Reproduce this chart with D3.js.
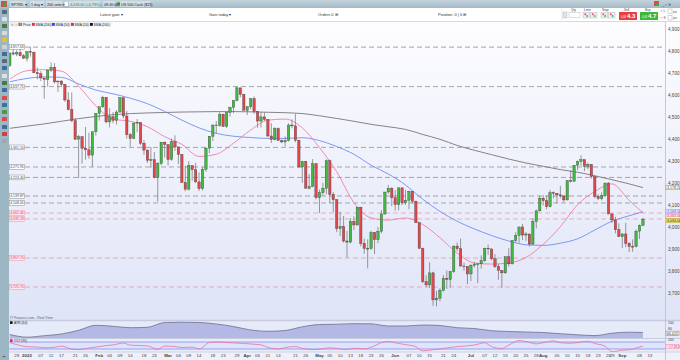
<!DOCTYPE html>
<html>
<head>
<meta charset="utf-8">
<script src="https://cdn.jsdelivr.net/npm/d3@7"></script>
<style>
  body { margin: 0; background: #fff; }
  svg { display: block; font-family: "Liberation Sans", Arial, sans-serif; }
</style>
</head>
<body>
<div id="chart"></div>
<script>
// US 500 Cash, daily candles: date, open, high, low, close
const candles = [
  ["2021-12-27",4733,4792,4728,4791],["2021-12-28",4791,4808,4780,4786],["2021-12-29",4786,4804,4776,4793],["2021-12-30",4793,4808,4775,4778],["2021-12-31",4778,4787,4764,4767],
  ["2022-01-03",4767,4797,4752,4797],["2022-01-04",4797,4819,4774,4794],["2022-01-05",4794,4798,4699,4701],["2022-01-06",4701,4725,4671,4696],["2022-01-07",4696,4708,4663,4677],
  ["2022-01-10",4677,4677,4582,4670],["2022-01-11",4670,4714,4638,4713],["2022-01-12",4713,4749,4703,4726],["2022-01-13",4726,4745,4652,4659],["2022-01-14",4659,4666,4614,4663],
  ["2022-01-17",4663,4668,4640,4648],["2022-01-18",4648,4650,4568,4577],["2022-01-19",4577,4612,4530,4533],["2022-01-20",4533,4611,4476,4483],["2022-01-21",4483,4495,4396,4398],
  ["2022-01-24",4398,4418,4222,4410],["2022-01-25",4410,4411,4287,4357],["2022-01-26",4357,4454,4305,4350],["2022-01-27",4350,4428,4309,4326],["2022-01-28",4326,4432,4273,4432],
  ["2022-01-31",4432,4516,4415,4516],["2022-02-01",4516,4546,4483,4546],["2022-02-02",4546,4596,4540,4589],["2022-02-03",4589,4590,4470,4477],["2022-02-04",4477,4540,4452,4501],
  ["2022-02-07",4501,4522,4471,4484],["2022-02-08",4484,4531,4465,4522],["2022-02-09",4522,4590,4520,4587],["2022-02-10",4587,4588,4492,4504],["2022-02-11",4504,4527,4401,4419],
  ["2022-02-14",4419,4427,4365,4402],["2022-02-15",4402,4472,4400,4472],["2022-02-16",4472,4490,4430,4475],["2022-02-17",4475,4476,4372,4380],["2022-02-18",4380,4394,4327,4349],
  ["2022-02-21",4349,4352,4290,4302],["2022-02-22",4302,4363,4267,4305],["2022-02-23",4305,4340,4221,4225],["2022-02-24",4225,4294,4114,4288],["2022-02-25",4288,4385,4280,4385],
  ["2022-02-28",4385,4388,4315,4374],["2022-03-01",4374,4375,4279,4306],["2022-03-02",4306,4401,4300,4387],["2022-03-03",4387,4416,4345,4363],["2022-03-04",4363,4365,4285,4329],
  ["2022-03-07",4329,4330,4199,4201],["2022-03-08",4201,4277,4161,4171],["2022-03-09",4171,4299,4165,4278],["2022-03-10",4278,4280,4209,4260],["2022-03-11",4260,4291,4200,4204],
  ["2022-03-14",4204,4247,4162,4173],["2022-03-15",4173,4271,4165,4262],["2022-03-16",4262,4357,4250,4358],["2022-03-17",4358,4412,4335,4412],["2022-03-18",4412,4465,4390,4463],
  ["2022-03-21",4463,4481,4424,4461],["2022-03-22",4461,4522,4455,4512],["2022-03-23",4512,4515,4455,4456],["2022-03-24",4456,4520,4450,4520],["2022-03-25",4520,4546,4501,4543],
  ["2022-03-28",4543,4575,4517,4575],["2022-03-29",4575,4637,4570,4632],["2022-03-30",4632,4633,4589,4602],["2022-03-31",4602,4605,4530,4530],["2022-04-01",4530,4548,4508,4546],
  ["2022-04-04",4546,4583,4535,4583],["2022-04-05",4583,4593,4514,4525],["2022-04-06",4525,4526,4450,4481],["2022-04-07",4481,4521,4451,4500],["2022-04-08",4500,4520,4482,4488],
  ["2022-04-11",4488,4490,4408,4413],["2022-04-12",4413,4471,4381,4397],["2022-04-13",4397,4453,4392,4447],["2022-04-14",4447,4452,4392,4392],["2022-04-15",4392,4398,4380,4386],
  ["2022-04-18",4386,4411,4365,4392],["2022-04-19",4392,4471,4388,4463],["2022-04-20",4463,4489,4448,4459],["2022-04-21",4459,4513,4385,4394],["2022-04-22",4394,4395,4268,4272],
  ["2022-04-25",4272,4300,4200,4297],["2022-04-26",4297,4300,4176,4175],["2022-04-27",4175,4240,4170,4183],["2022-04-28",4183,4308,4180,4287],["2022-04-29",4287,4290,4124,4132],
  ["2022-05-02",4132,4169,4062,4155],["2022-05-03",4155,4200,4142,4175],["2022-05-04",4175,4307,4148,4300],["2022-05-05",4300,4305,4107,4147],["2022-05-06",4147,4158,4067,4123],
  ["2022-05-09",4123,4125,3975,3991],["2022-05-10",3991,4068,3958,4001],["2022-05-11",4001,4049,3928,3935],["2022-05-12",3935,3981,3859,3930],["2022-05-13",3930,4039,3925,4024],
  ["2022-05-16",4024,4047,3984,4008],["2022-05-17",4008,4089,4005,4089],["2022-05-18",4089,4090,3911,3924],["2022-05-19",3924,3946,3877,3901],["2022-05-20",3901,3943,3811,3901],
  ["2022-05-23",3901,3982,3895,3974],["2022-05-24",3974,3976,3876,3941],["2022-05-25",3941,3999,3925,3979],["2022-05-26",3979,4076,3970,4058],["2022-05-27",4058,4158,4055,4158],
  ["2022-05-30",4158,4190,4150,4175],["2022-05-31",4175,4180,4094,4132],["2022-06-01",4132,4167,4073,4101],["2022-06-02",4101,4177,4074,4177],["2022-06-03",4177,4178,4098,4109],
  ["2022-06-06",4109,4168,4100,4121],["2022-06-07",4121,4164,4080,4161],["2022-06-08",4161,4162,4107,4116],["2022-06-09",4116,4119,4017,4018],["2022-06-10",4018,4020,3901,3901],
  ["2022-06-13",3901,3905,3743,3750],["2022-06-14",3750,3778,3725,3735],["2022-06-15",3735,3838,3723,3790],["2022-06-16",3790,3795,3640,3667],["2022-06-17",3667,3707,3637,3675],
  ["2022-06-20",3675,3720,3660,3710],["2022-06-21",3710,3780,3705,3765],["2022-06-22",3765,3801,3717,3760],["2022-06-23",3760,3796,3724,3796],["2022-06-24",3796,3913,3790,3912],
  ["2022-06-27",3912,3928,3889,3900],["2022-06-28",3900,3946,3820,3821],["2022-06-29",3821,3836,3800,3819],["2022-06-30",3819,3820,3739,3785],["2022-07-01",3785,3829,3753,3825],
  ["2022-07-04",3825,3840,3815,3830],["2022-07-05",3830,3832,3743,3831],["2022-07-06",3831,3870,3809,3845],["2022-07-07",3845,3905,3840,3902],["2022-07-08",3902,3919,3872,3899],
  ["2022-07-11",3899,3900,3847,3854],["2022-07-12",3854,3875,3812,3819],["2022-07-13",3819,3830,3759,3801],["2022-07-14",3801,3802,3722,3790],["2022-07-15",3790,3864,3785,3863],
  ["2022-07-18",3863,3902,3818,3831],["2022-07-19",3831,3939,3828,3937],["2022-07-20",3937,3975,3929,3960],["2022-07-21",3960,3999,3927,3999],["2022-07-22",3999,4013,3939,3962],
  ["2022-07-25",3962,3976,3936,3967],["2022-07-26",3967,3968,3910,3921],["2022-07-27",3921,4039,3918,4024],["2022-07-28",4024,4078,3992,4072],["2022-07-29",4072,4141,4070,4130],
  ["2022-08-01",4130,4144,4097,4119],["2022-08-02",4119,4141,4079,4091],["2022-08-03",4091,4167,4088,4155],["2022-08-04",4155,4161,4129,4152],["2022-08-05",4152,4153,4107,4145],
  ["2022-08-08",4145,4186,4129,4140],["2022-08-09",4140,4141,4112,4122],["2022-08-10",4122,4211,4120,4210],["2022-08-11",4210,4257,4201,4207],["2022-08-12",4207,4280,4205,4280],
  ["2022-08-15",4280,4301,4257,4297],["2022-08-16",4297,4325,4277,4305],["2022-08-17",4305,4306,4253,4275],["2022-08-18",4275,4292,4261,4284],["2022-08-19",4284,4285,4218,4228],
  ["2022-08-22",4228,4229,4129,4138],["2022-08-23",4138,4148,4122,4128],["2022-08-24",4128,4156,4120,4141],["2022-08-25",4141,4200,4138,4199],["2022-08-26",4199,4203,4057,4058],
  ["2022-08-29",4058,4063,4017,4031],["2022-08-30",4031,4045,3970,3986],["2022-08-31",3986,4016,3954,3955],["2022-09-01",3955,3970,3904,3967],["2022-09-02",3967,4018,3907,3924],
  ["2022-09-05",3924,3930,3885,3910],["2022-09-06",3910,3942,3886,3909],["2022-09-07",3909,3987,3906,3980],["2022-09-08",3980,4010,3944,4006],["2022-09-09",4006,4040,4003,4034]
];

// moving averages and ATR read weekly (each Monday, then the last day)
const sma20 = [4672,4710,4715,4708,4640,4550,4490,4480,4455,4410,4375,4320,4330,4380,4440,4485,4490,4450,4360,4250,
  4110,4040,4030,4040,4010,3950,3880,3835,3830,3835,3860,3920,4000,4100,4160,4195,4120,4063];
const sma50 = [4660,4675,4682,4680,4650,4622,4605,4585,4560,4525,4485,4450,4425,4412,4406,4402,4402,4405,4392,4365,
  4330,4280,4240,4190,4125,4070,4025,3990,3960,3935,3918,3915,3925,3945,3985,4025,4050,4068];
const sma200 = [4448,4458,4468,4480,4492,4502,4510,4515,4518,4520,4522,4523,4524,4524,4523,4521,4519,4515,4505,4493,
  4480,4466,4455,4443,4420,4398,4370,4348,4328,4308,4290,4275,4260,4248,4232,4214,4195,4178.24];
const atr14 = [59.7,50.7,55.7,61.3,73.7,90.3,87,82.3,83.7,99.7,100.7,99.7,94.7,86.3,74.7,70.3,73,85.3,93,94,
  95.7,95.3,88,88,91.3,89.7,82.3,79.7,72.3,69.7,68,66.3,62.3,58.7,56,64,67.3,66.423];
// CCI read twice a week (Monday, Thursday), then the last day
const cci20 = [80,0, -34,-43, -66,-51, -17,-103, -117,-69, -46,-3, 17,69, 11,-3, -11,-109, -17,-29,
  -57,-46, -97,83, 100,83, 74,60, 43,17, -51,-100, -60,-31, -83,-117, -106,-66, -83,-117,
  -77,-97, -51,80, 114,57, 26,-34, -154,-120, -100,-57, -31,-9, 14,77, -29,-86, 11,143,
  114,46, 80,134, 80,66, 83,123, 57,-20, -177,-134, -123,-43, -17.812];

const priceTicks = [4900,4800,4700,4600,4500,4400,4300,4200,4100,4000,3900,3800,3700];
const atrTicks = [100, 80];
const greyLevels = [4817.63,4637.71,4361.10,4271.95,4224.40,4139.87,4108.05];
const pinkLevels = [4062.46,4035.18,3857.70,3725.70];
const lastPrice = 4034.00;
const xTicks = [
  ["2021-12-29","29"],["2022-01-03","2022"],["2022-01-07","07"],["2022-01-12","12"],["2022-01-17","17"],["2022-01-21","21"],["2022-01-26","26"],
  ["2022-02-01","Feb"],["2022-02-04","04"],["2022-02-09","09"],["2022-02-14","14"],["2022-02-18","18"],["2022-02-23","23"],
  ["2022-03-01","Mar"],["2022-03-04","04"],["2022-03-09","09"],["2022-03-14","14"],["2022-03-18","18"],["2022-03-23","23"],["2022-03-29","29"],
  ["2022-04-01","Apr"],["2022-04-06","06"],["2022-04-11","11"],["2022-04-14","14"],["2022-04-21","21"],["2022-04-26","26"],
  ["2022-05-02","May"],["2022-05-05","05"],["2022-05-10","10"],["2022-05-13","13"],["2022-05-18","18"],["2022-05-23","23"],["2022-05-26","26"],
  ["2022-06-01","Jun"],["2022-06-07","07"],["2022-06-10","10"],["2022-06-15","15"],["2022-06-21","21"],["2022-06-24","24"],
  ["2022-07-01","Jul"],["2022-07-07","07"],["2022-07-12","12"],["2022-07-15","15"],["2022-07-20","20"],["2022-07-25","25"],["2022-07-28","28"],
  ["2022-08-01","Aug"],["2022-08-05","05"],["2022-08-10","10"],["2022-08-15","15"],["2022-08-18","18"],["2022-08-23","23"],["2022-08-26","26"],["2022-08-29","29"],
  ["2022-09-01","Sep"],["2022-09-08","08"],["2022-09-13","13"]
];

const W = 680, H = 360;
const L = 9, R = 665, T = 22, mainB = 320, atrB = 338, cciB = 352;
const fmt = d3.timeFormat("%Y-%m-%d");

// trading calendar (weekdays) shown on the axis
const allDays = d3.timeDay.range(new Date(2021, 11, 27), new Date(2022, 8, 21))
  .filter(d => d.getDay() > 0 && d.getDay() < 6).map(fmt);
const mondays = d3.timeMonday.range(new Date(2021, 11, 27), new Date(2022, 8, 6));
const weekDates = mondays.map(fmt).concat(["2022-09-09"]);
const cciDates = mondays.flatMap(m => [fmt(m), fmt(d3.timeDay.offset(m, 3))]).concat(["2022-09-09"]);

const step = 3.441, x0 = 8.08;
const x = d3.scaleBand().domain(allDays).range([x0, x0 + allDays.length * step])
  .paddingInner(0.3).paddingOuter(0.15);
const bw = x.bandwidth();
const cx = d => x(d) + bw / 2;
const y = d3.scaleLinear().domain([3600, 4900]).range([314.6, 29.0]);
const atrY = d3.scaleLinear().domain([48, 108]).range([atrB, mainB]);
const cciY = d3.scaleLinear().domain([-200, 200]).range([352.5, 338.5]);

const svg = d3.select("#chart").append("svg").attr("width", W).attr("height", H);
const defs = svg.append("defs");
const bg = defs.append("linearGradient").attr("id", "bg").attr("x1", 0).attr("x2", 0).attr("y1", 0).attr("y2", 1);
bg.append("stop").attr("offset", "0%").attr("stop-color", "#fdfdff");
bg.append("stop").attr("offset", "100%").attr("stop-color", "#dfe4f7");
const tb = defs.append("linearGradient").attr("id", "tb").attr("x1", 0).attr("x2", 0).attr("y1", 0).attr("y2", 1);
tb.append("stop").attr("offset", "0%").attr("stop-color", "#c3d3dc");
tb.append("stop").attr("offset", "100%").attr("stop-color", "#a4bac7");
defs.append("clipPath").attr("id", "clipMain").append("rect").attr("x", L).attr("y", T).attr("width", R - L).attr("height", mainB - T);
defs.append("clipPath").attr("id", "clipCci").append("rect").attr("x", L).attr("y", atrB).attr("width", R - L).attr("height", cciB - atrB);

// backgrounds
svg.append("rect").attr("x", 0).attr("y", 0).attr("width", W).attr("height", H).attr("fill", "#fff");
svg.append("rect").attr("x", L).attr("y", T).attr("width", W - L).attr("height", mainB - T).attr("fill", "url(#bg)");
svg.append("rect").attr("x", L).attr("y", mainB).attr("width", W - L).attr("height", atrB - mainB).attr("fill", "#e7eaf9");
svg.append("rect").attr("x", L).attr("y", atrB).attr("width", W - L).attr("height", cciB - atrB).attr("fill", "#e9ecfa");
svg.append("rect").attr("x", L).attr("y", cciB).attr("width", W - L).attr("height", H - cciB).attr("fill", "#eef0fa");
svg.append("line").attr("x1", L).attr("x2", W).attr("y1", mainB + 0.5).attr("y2", mainB + 0.5).attr("stroke", "#c6cbe0").attr("stroke-width", 1.5);
svg.append("line").attr("x1", L).attr("x2", W).attr("y1", atrB + 0.5).attr("y2", atrB + 0.5).attr("stroke", "#c6cbe0").attr("stroke-width", 1.2);
svg.append("line").attr("x1", L).attr("x2", W).attr("y1", cciB).attr("y2", cciB).attr("stroke", "#c6cbe0").attr("stroke-width", 0.8);
svg.append("line").attr("x1", R + 0.5).attr("x2", R + 0.5).attr("y1", T).attr("y2", H).attr("stroke", "#b7bdd6").attr("stroke-width", 0.8);

// horizontal levels with their labels on the left
const levels = greyLevels.map(v => ({v, pink: false})).concat(pinkLevels.map(v => ({v, pink: true})));
svg.append("g").selectAll("line").data(levels).join("line")
  .attr("x1", 25).attr("x2", R).attr("y1", d => y(d.v)).attr("y2", d => y(d.v))
  .attr("stroke", d => d.pink ? "#f2a2b4" : "#9c9c9c").attr("stroke-width", 0.9).attr("stroke-dasharray", "5,3");
const lvl = svg.append("g").selectAll("g").data(levels).join("g")
  .attr("transform", d => `translate(9.5,${y(d.v)})`);
lvl.append("rect").attr("x", 0).attr("y", -2.4).attr("width", 15).attr("height", 4.8)
  .attr("fill", d => d.pink ? "#fde9ee" : "#fff").attr("stroke", d => d.pink ? "#f08ea5" : "#8a8a8a").attr("stroke-width", 0.5);
lvl.append("text").attr("x", 7.5).attr("y", 1.3).attr("text-anchor", "middle").attr("font-size", 3.5)
  .attr("fill", d => d.pink ? "#d9406a" : "#444").text(d => d3.format(",.2f")(d.v));

// moving averages
const line = d3.line().x(d => cx(d.d)).y(d => y(d.v)).curve(d3.curveMonotoneX);
const mg = svg.append("g").attr("clip-path", "url(#clipMain)");
[[sma200, "#7a7675"], [sma50, "#6f8ef0"], [sma20, "#f07fa6"]].forEach(([vals, col]) => {
  mg.append("path").datum(weekDates.map((d, i) => ({d, v: vals[i]})))
    .attr("d", line).attr("fill", "none").attr("stroke", col).attr("stroke-width", 0.9);
});

// candles
const cg = svg.append("g").attr("clip-path", "url(#clipMain)");
cg.selectAll("line").data(candles).join("line")
  .attr("x1", d => cx(d[0])).attr("x2", d => cx(d[0]))
  .attr("y1", d => y(d[2])).attr("y2", d => y(d[3]))
  .attr("stroke", "#5a5a5a").attr("stroke-width", 0.6);
cg.selectAll("rect").data(candles).join("rect")
  .attr("x", d => x(d[0])).attr("width", bw)
  .attr("y", d => y(Math.max(d[1], d[4])))
  .attr("height", d => Math.max(0.6, Math.abs(y(d[1]) - y(d[4]))))
  .attr("fill", d => d[4] >= d[1] ? "#3fbb3f" : "#e4474b")
  .attr("stroke", "#3a3a3a").attr("stroke-width", 0.35);

// right price axis
const yAxis = svg.append("g").attr("transform", `translate(${R + 2},0)`)
  .call(d3.axisRight(y).tickValues(priceTicks).tickSize(0).tickPadding(1).tickFormat(d3.format(",")));
yAxis.select(".domain").remove();
yAxis.selectAll("text").attr("font-size", 4.6).attr("fill", "#444");

// value boxes at the right edge, stacked so they do not overlap
const boxes = [
  {v: sma200[sma200.length - 1], stroke: "#8a8a8a", fill: "#fff", col: "#444"},
  {v: sma50[sma50.length - 1], stroke: "#6f8ef0", fill: "#eef2ff", col: "#3757c8"},
  {v: sma20[sma20.length - 1], stroke: "#f07fa6", fill: "#fde9ee", col: "#d9406a"},
  {v: lastPrice, stroke: "#b7ad2a", fill: "#e9e27c", col: "#333"}
].map(b => ({...b, yy: y(b.v)})).sort((a, b) => a.yy - b.yy);
boxes.forEach((b, i) => { if (i > 0 && b.yy - boxes[i - 1].yy < 4.4) b.yy = boxes[i - 1].yy + 4.4; });
const bx = svg.append("g").selectAll("g").data(boxes).join("g").attr("transform", d => `translate(${R + 1},${d.yy})`);
bx.append("rect").attr("x", 0).attr("y", -2.2).attr("width", 14).attr("height", 4.4)
  .attr("fill", d => d.fill).attr("stroke", d => d.stroke).attr("stroke-width", 0.5);
bx.append("text").attr("x", 1).attr("y", 1.3).attr("font-size", 3.6).attr("fill", d => d.col).text(d => d3.format(",.2f")(d.v));

svg.append("text").attr("x", 10).attr("y", 318.5).attr("font-size", 3.5).attr("fill", "#666").text("IT Finance.com - Real Time");

// ATR panel
const atrData = weekDates.map((d, i) => ({d, v: atr14[i]}));
svg.append("path").datum(atrData)
  .attr("d", d3.area().x(d => cx(d.d)).y0(atrB).y1(d => atrY(d.v)).curve(d3.curveMonotoneX))
  .attr("fill", "#b3b8e4");
svg.append("path").datum(atrData)
  .attr("d", d3.line().x(d => cx(d.d)).y(d => atrY(d.v)).curve(d3.curveMonotoneX))
  .attr("fill", "none").attr("stroke", "#6c708c").attr("stroke-width", 0.8);
svg.append("rect").attr("x", 10).attr("y", 321.3).attr("width", 2.6).attr("height", 2.6).attr("fill", "#111");
svg.append("rect").attr("x", 13.5).attr("y", 321).attr("width", 12).attr("height", 3.3).attr("fill", "#d7dbef");
svg.append("text").attr("x", 14).attr("y", 323.6).attr("font-size", 3.4).attr("fill", "#333").text("ATR (14)");
const atrAxis = svg.append("g").attr("transform", `translate(${R + 2},0)`)
  .call(d3.axisRight(atrY).tickValues(atrTicks).tickSize(0).tickPadding(1));
atrAxis.select(".domain").remove();
atrAxis.selectAll("text").attr("font-size", 3.4).attr("fill", "#444");
const atrBox = svg.append("g").attr("transform", `translate(${R + 1},${atrY(atr14[atr14.length - 1]) + 0.8})`);
atrBox.append("rect").attr("x", 0).attr("y", -2.1).attr("width", 13).attr("height", 4.2).attr("fill", "#fff").attr("stroke", "#777").attr("stroke-width", 0.5);
atrBox.append("text").attr("x", 1).attr("y", 1.3).attr("font-size", 3.5).attr("fill", "#333").text(d3.format(".3f")(atr14[atr14.length - 1]));

// CCI panel
svg.append("rect").attr("x", L).attr("width", R - L).attr("y", cciY(100)).attr("height", cciY(-100) - cciY(100)).attr("fill", "#e0e4fa");
svg.append("g").selectAll("line").data([100, -100]).join("line")
  .attr("x1", L).attr("x2", R).attr("y1", d => cciY(d)).attr("y2", d => cciY(d))
  .attr("stroke", "#8c9aee").attr("stroke-width", 0.9);
svg.append("path").attr("clip-path", "url(#clipCci)").datum(cciDates.map((d, i) => ({d, v: cci20[i]})))
  .attr("d", d3.line().x(d => cx(d.d)).y(d => cciY(d.v)).curve(d3.curveMonotoneX))
  .attr("fill", "none").attr("stroke", "#ee6f9c").attr("stroke-width", 0.8);
svg.append("rect").attr("x", 10).attr("y", 339.3).attr("width", 2.6).attr("height", 2.6).attr("fill", "#e8213f");
svg.append("rect").attr("x", 13.5).attr("y", 339).attr("width", 12).attr("height", 3.3).attr("fill", "#d7dbef");
svg.append("text").attr("x", 14).attr("y", 341.6).attr("font-size", 3.4).attr("fill", "#333").text("CCI (20)");
svg.append("text").attr("x", R + 3).attr("y", 341).attr("font-size", 3.4).attr("fill", "#444").text("200");
const cciBox = svg.append("g").attr("transform", `translate(${R + 1},${cciY(cci20[cci20.length - 1]) + 0.6})`);
cciBox.append("rect").attr("x", 0).attr("y", -2.1).attr("width", 13).attr("height", 4.2).attr("fill", "#fde9ee").attr("stroke", "#f07fa6").attr("stroke-width", 0.5);
cciBox.append("text").attr("x", 1).attr("y", 1.3).attr("font-size", 3.5).attr("fill", "#d9406a").text(d3.format(".3f")(cci20[cci20.length - 1]));

// date axis
const tickMap = new Map(xTicks);
const xAxis = svg.append("g").attr("transform", `translate(0,${cciB})`)
  .call(d3.axisBottom(x).tickValues(xTicks.map(t => t[0])).tickSize(0).tickPadding(1.5).tickFormat(d => tickMap.get(d)));
xAxis.select(".domain").remove();
xAxis.selectAll("text").attr("font-size", 4.4).attr("fill", "#444")
  .attr("font-weight", d => /[A-Z]|2022/.test(tickMap.get(d)) ? "bold" : null);

// left tool strip
svg.append("rect").attr("x", 0).attr("y", 8).attr("width", L).attr("height", H - 8).attr("fill", "#9db6c3");
const icons = [[12,"#5a6c78"],[19,"#d8e2e8"],[26,"#4b7b3c"],[33,"#d9d9d9"],[40,"#e0c040"],[47,"#d0d0d0"],[54,"#3d6f9e"],[61,"#5a6c78"],
  [68,"#3d6f9e"],[76,"#e0e0e0"],[83,"#4b7b3c"],[90,"#3d6f9e"],[98,"#e04848"],[105,"#3d6f9e"],[112,"#4b9b3c"],[119,"#e04848"],
  [127,"#3d6f9e"],[134,"#d04040"],[141,"#9aa8b0"]];
svg.append("g").selectAll("rect").data(icons).join("rect")
  .attr("x", 2).attr("y", d => d[0] - 2).attr("width", 5).attr("height", 4).attr("rx", 0.6).attr("fill", d => d[1]);
svg.append("text").attr("x", 2).attr("y", 358).attr("font-size", 4).attr("fill", "#334").text("⇥");

// top bar
svg.append("rect").attr("x", 0).attr("y", 0).attr("width", W).attr("height", 8).attr("fill", "url(#tb)");
svg.append("rect").attr("x", 1).attr("y", 1).attr("width", 6).attr("height", 6).attr("fill", "#e04848");
svg.append("rect").attr("x", 3.5).attr("y", 2.5).attr("width", 3).attr("height", 4).attr("fill", "#3fa83f");
const topTexts = [[11,"SPTRD ▾","#222",16],[31,"1 day ▾","#222",14],[47,"200 units ▾","#222",16],[70,"4,034.00 (+0.79%)","#2a9a2a",31],
  [104,"09:40:00","#222",12],[121,"US 500 Cash ($25)","#222",30]];
svg.append("g").selectAll("rect").data(topTexts).join("rect")
  .attr("x", d => d[0] - 1).attr("y", 1).attr("height", 6).attr("width", d => d[3]).attr("fill", "#dde6eb").attr("opacity", 0.7);
svg.append("g").selectAll("text").data(topTexts).join("text")
  .attr("x", d => d[0]).attr("y", 5.5).attr("font-size", 3.7).attr("fill", d => d[2]).text(d => d[1]);
svg.append("rect").attr("x", 64.5).attr("y", 2).attr("width", 3.5).attr("height", 4).attr("fill", "#fff");
svg.append("rect").attr("x", 117).attr("y", 2.5).attr("width", 3).attr("height", 3).attr("fill", "#2a9a2a");
svg.append("rect").attr("x", 654).attr("y", 1).attr("width", 5).attr("height", 5).attr("fill", "#e04848");
svg.append("rect").attr("x", 656).attr("y", 3).attr("width", 3).attr("height", 3).attr("fill", "#3fa83f");
svg.append("text").attr("x", 662).attr("y", 5.5).attr("font-size", 4).attr("fill", "#333").text("_ ▫ ✕");

// second bar: account summary and deal ticket
const bar2 = [[100,"Latest gain ▾"],[209,"Gain today ▾"],[318,"Orders 0 ⊞"],[438,"Position: 0 | 0 ⊞"]];
svg.append("g").selectAll("text").data(bar2).join("text")
  .attr("x", d => d[0]).attr("y", 15.5).attr("font-size", 4).attr("fill", "#333").text(d => d[1]);
svg.append("line").attr("x1", 562).attr("x2", 562).attr("y1", 9).attr("y2", 20).attr("stroke", "#ccd").attr("stroke-width", 0.5);
[[571,"Qty"],[584,"Limit"],[602,"Stop"],[624,"Sell"],[645,"Buy"]].forEach(([xx, t]) => {
  svg.append("text").attr("x", xx).attr("y", 11).attr("font-size", 3.2).attr("fill", "#444").text(t);
});
svg.append("rect").attr("x", 563).attr("y", 12).attr("width", 4).attr("height", 6).attr("fill", "#dfe4e8").attr("stroke", "#aab").attr("stroke-width", 0.4);
svg.append("rect").attr("x", 569).attr("y", 12.5).attr("width", 11).attr("height", 5).attr("fill", "#fff").attr("stroke", "#aab").attr("stroke-width", 0.4);
[583,590.5,601,608.5].forEach(xx => {
  svg.append("rect").attr("x", xx).attr("y", 12.5).attr("width", 6.5).attr("height", 5.5).attr("fill", "#eceff2").attr("stroke", "#aab").attr("stroke-width", 0.4);
  svg.append("rect").attr("x", xx + 1.5).attr("y", 13.5).attr("width", 1.6).attr("height", 1.6).attr("fill", "#e04848");
  svg.append("rect").attr("x", xx + 3.3).attr("y", 15.2).attr("width", 1.6).attr("height", 1.6).attr("fill", "#3fa83f");
});
[[619,"#e8403f","4.3"],[640,"#3cb83c","4.7"]].forEach(([xx, col, t]) => {
  svg.append("rect").attr("x", xx).attr("y", 12).attr("width", 18).attr("height", 8).attr("fill", col).attr("rx", 0.5);
  svg.append("text").attr("x", xx + 2).attr("y", 17.5).attr("font-size", 2.6).attr("fill", "#fff").text("4,03");
  svg.append("text").attr("x", xx + 8).attr("y", 18.3).attr("font-size", 6).attr("font-weight", "bold").attr("fill", "#fff").text(t);
});
svg.append("text").attr("x", 660.5).attr("y", 12).attr("font-size", 3.4).attr("fill", "#555").text("○ L");
svg.append("text").attr("x", 660.5).attr("y", 19).attr("font-size", 3.4).attr("fill", "#555").text("□ S");
svg.append("rect").attr("x", 668).attr("y", 9).attr("width", 4).attr("height", 4.5).attr("fill", "#fff").attr("stroke", "#99a").attr("stroke-width", 0.4);
svg.append("rect").attr("x", 668).attr("y", 15.5).attr("width", 4).attr("height", 4.5).attr("fill", "#fff").attr("stroke", "#99a").attr("stroke-width", 0.4);
svg.append("text").attr("x", 673).attr("y", 12.5).attr("font-size", 3).attr("fill", "#555").text("pts");
svg.append("text").attr("x", 673).attr("y", 19).attr("font-size", 3).attr("fill", "#555").text("pts");
svg.append("line").attr("x1", L).attr("x2", W).attr("y1", 21.5).attr("y2", 21.5).attr("stroke", "#c8d0d8").attr("stroke-width", 0.8);

// legend
svg.append("rect").attr("x", 9.5).attr("y", 22.3).attr("width", 102).attr("height", 4.2).attr("fill", "#e6e8ee").attr("opacity", 0.8);
svg.append("text").attr("x", 10.5).attr("y", 25.6).attr("font-size", 3.4).attr("fill", "#d33").text("✕");
svg.append("text").attr("x", 14.5).attr("y", 25.6).attr("font-size", 3.4).attr("fill", "#3a3").text("✓");
svg.append("rect").attr("x", 18.5).attr("y", 22.8).attr("width", 1.6).attr("height", 3.2).attr("fill", "#e04848");
svg.append("rect").attr("x", 20.3).attr("y", 22.8).attr("width", 1.6).attr("height", 3.2).attr("fill", "#3fa83f");
const legendItems = [["Price", null, 23], ["SMA (200)", "#e8303c", 32], ["SMA (50)", "#2f47e0", 52], ["SMA (20)", "#e8213f", 71], ["SMA (200)", "#111", 90]];
legendItems.forEach(([t, c, xx]) => {
  if (c) svg.append("rect").attr("x", xx).attr("y", 23).attr("width", 2.8).attr("height", 2.8).attr("fill", c);
  svg.append("text").attr("x", c ? xx + 3.6 : xx).attr("y", 25.6).attr("font-size", 3.4).attr("fill", "#333").text(t);
});
</script>
</body>
</html>
